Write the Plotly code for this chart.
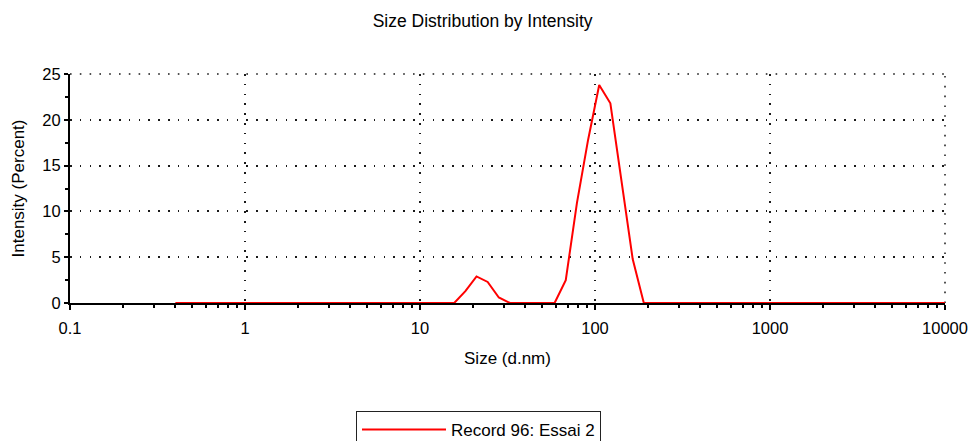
import plotly.graph_objects as go

# Size classes (d.nm) of the intensity distribution
sizes_nm = [
    0.4, 0.4632, 0.5365, 0.6213, 0.7195, 0.8332, 0.9649, 1.117, 1.294, 1.499,
    1.736, 2.010, 2.328, 2.696, 3.122, 3.615, 4.187, 4.849, 5.615, 6.503,
    7.531, 8.721, 10.10, 11.70, 13.54, 15.69, 18.17, 21.04, 24.36, 28.21,
    32.67, 37.84, 43.82, 50.75, 58.77, 68.06, 78.82, 91.28, 105.7, 122.4,
    141.8, 164.2, 190.1, 220.2, 255.0, 295.3, 342.0, 396.1, 458.7, 531.2,
    615.1, 712.4, 825.0, 955.4, 1106, 1281, 1484, 1718, 1990, 2305,
    2669, 3091, 3580, 4145, 4801, 5560, 6439, 7456, 8635, 10000,
]

# Intensity (%) per size class
intensity_pct = [
    0, 0, 0, 0, 0, 0, 0, 0, 0, 0,
    0, 0, 0, 0, 0, 0, 0, 0, 0, 0,
    0, 0, 0, 0, 0, 0, 1.3, 2.9, 2.3, 0.6,
    0, 0, 0, 0, 0, 2.5, 10.9, 17.8, 23.8, 21.8,
    13.1, 4.8, 0, 0, 0, 0, 0, 0, 0, 0,
    0, 0, 0, 0, 0, 0, 0, 0, 0, 0,
    0, 0, 0, 0, 0, 0, 0, 0, 0, 0,
]

record_name = "Record 96: Essai 2"
chart_title = "Size Distribution by Intensity"
x_title = "Size (d.nm)"
y_title = "Intensity (Percent)"

x_tick_values = [0.1, 1, 10, 100, 1000, 10000]
x_tick_labels = ["0.1", "1", "10", "100", "1000", "10000"]
y_tick_values = [0, 5, 10, 15, 20, 25]
y_tick_labels = ["0", "5", "10", "15", "20", "25"]

FONT = "Liberation Sans, Arial, sans-serif"
INK = "#000000"
GRID_COLOR = "#1a1a1a"
GRID_DASH = "1.6px,8.2px"

# plot area in pixels
W, H = 971, 441
ML, MR, MT, MB = 70, 26, 74, 138
PW, PH = W - ML - MR, H - MT - MB

# minor ticks at 2..9 of every decade
x_minor = [m * d for d in [0.1, 1, 10, 100, 1000] for m in range(2, 10)]

fig = go.Figure()
fig.add_trace(go.Scatter(
    x=sizes_nm, y=intensity_pct, mode="lines", name=record_name,
    line=dict(color="#ff0000", width=2),
    showlegend=True,
))

# dotted frame on the top and right edges of the plot area
edge_line = dict(color=GRID_COLOR, width=1.5, dash=GRID_DASH)
fig.add_shape(type="line", xref="paper", yref="paper", x0=0, x1=1, y0=1, y1=1,
              line=edge_line, layer="below")
fig.add_shape(type="line", xref="paper", yref="paper", x0=1, x1=1, y0=0, y1=1,
              line=edge_line, layer="below")

fig.update_layout(
    width=W, height=H,
    margin=dict(l=ML, r=MR, t=MT, b=MB, autoexpand=False),
    paper_bgcolor="white", plot_bgcolor="white",
    font=dict(family=FONT, size=16.5, color=INK),
    title=dict(text=chart_title, x=0.497, xanchor="center",
               y=1 - 21 / H, yanchor="middle", yref="container",
               font=dict(size=17.5, color=INK)),
    showlegend=True,
    legend=dict(
        xref="paper", yref="paper",
        x=(356 - ML) / PW, xanchor="left",
        y=(H - MB - 411) / PH, yanchor="top",
        bgcolor="white", bordercolor="#222222", borderwidth=1,
        font=dict(size=17, color=INK), itemwidth=84,
        tracegroupgap=0,
    ),
    xaxis=dict(
        type="log", range=[-1, 4], domain=[0, 1], layer="below traces",
        showline=True, linecolor=INK, linewidth=2,
        tickmode="array", tickvals=x_tick_values, ticktext=x_tick_labels,
        ticks="outside", ticklen=5, tickwidth=1.5, tickcolor=INK,
        ticklabelstandoff=4,
        showgrid=True, gridcolor=GRID_COLOR, gridwidth=1.5, griddash=GRID_DASH,
        zeroline=False,
        minor=dict(tickvals=x_minor, ticks="outside", ticklen=3,
                   tickwidth=1.5, tickcolor=INK, showgrid=False),
        title=dict(text=x_title, font=dict(size=17, color=INK), standoff=16),
    ),
    xaxis2=dict(
        type="log", range=[-1, 4], domain=[0, 1], overlaying="x", anchor="y",
        showline=False, showgrid=False, zeroline=False,
        tickmode="array", tickvals=x_tick_values, showticklabels=False,
        ticks="inside", ticklen=5, tickwidth=1.5, tickcolor=INK,
        minor=dict(tickvals=x_minor, ticks="inside", ticklen=3,
                   tickwidth=1.5, tickcolor=INK, showgrid=False),
    ),
    yaxis=dict(
        range=[0, 25], domain=[0, 1], layer="below traces",
        showline=True, linecolor=INK, linewidth=2,
        tickmode="array", tickvals=y_tick_values, ticktext=y_tick_labels,
        ticks="outside", ticklen=4, tickwidth=1.5, tickcolor=INK,
        showgrid=True, gridcolor=GRID_COLOR, gridwidth=1.5, griddash=GRID_DASH,
        zeroline=False,
        minor=dict(dtick=2.5, tick0=0, ticks="outside", ticklen=3,
                   tickwidth=1.5, tickcolor=INK, showgrid=False),
        title=dict(text=y_title, font=dict(size=17, color=INK), standoff=13),
    ),
    yaxis2=dict(
        range=[0, 25], domain=[0, 1], overlaying="y", anchor="x",
        showline=False, showgrid=False, zeroline=False,
        showticklabels=False, ticks="",
        minor=dict(dtick=2.5, tick0=0, ticks="inside", ticklen=3,
                   tickwidth=1.5, tickcolor=INK, showgrid=False),
    ),
)

fig.write_html("out.html")
